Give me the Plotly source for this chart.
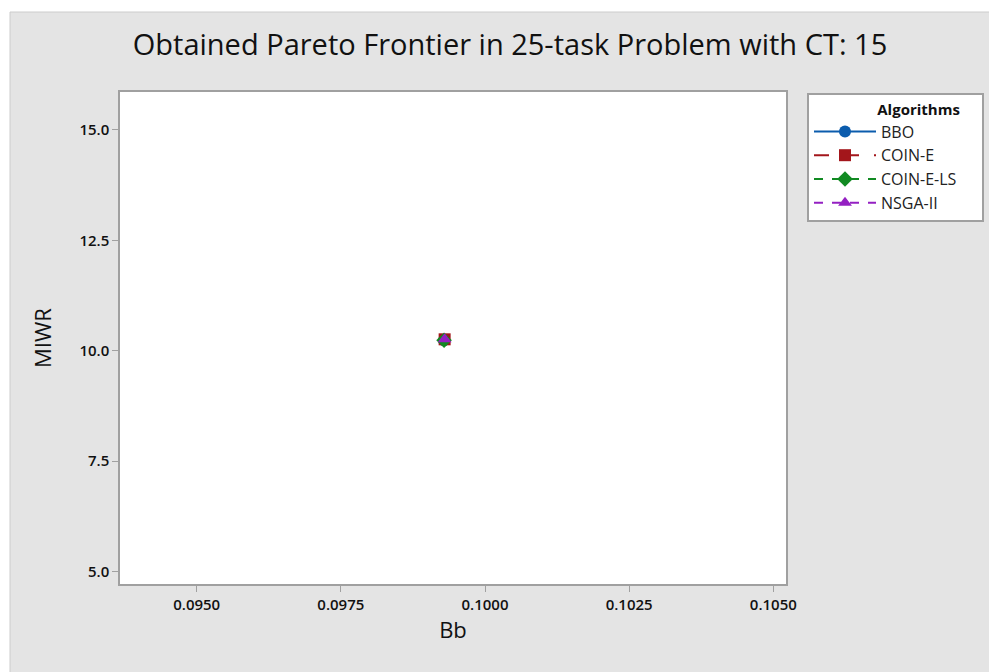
import plotly.graph_objects as go

algorithms = ["BBO", "COIN-E", "COIN-E-LS", "NSGA-II"]
bb_values = [0.09929, 0.09930, 0.09929, 0.09930]
miwr_values = [10.24, 10.26, 10.24, 10.26]
colors = ["#0b5cad", "#a3161b", "#118a22", "#9420c2"]
symbols = ["circle", "square", "diamond", "triangle-up"]
dashes = ["solid", "longdash", "dash", "dash"]

x_ticks = [0.0950, 0.0975, 0.1000, 0.1025, 0.1050]
y_ticks = [5.0, 7.5, 10.0, 12.5, 15.0]

# page has an 8px body margin; figure sized to fill the rest of the window
W, H = 989, 664
ML, MR, MT, MB = 112, 211, 84, 88
PW = W - ML - MR
PH = H - MT - MB


def px_x(X):
    return (X - ML) / PW


def px_y(Y):
    return (H - MB - Y) / PH


fig = go.Figure()
for name, xv, yv, c, s, d in zip(algorithms, bb_values, miwr_values, colors, symbols, dashes):
    fig.add_trace(go.Scatter(
        x=[xv], y=[yv], name=name, mode="lines+markers",
        line=dict(color=c, width=2, dash=d),
        marker=dict(symbol=s, size=12, color=c, line=dict(width=0)),
    ))

axis_common = dict(
    showgrid=False, zeroline=False, showline=True, linecolor="#a0a0a0", linewidth=1.5,
    mirror=True, ticks="outside", ticklen=6, tickcolor="#a0a0a0",
    tickfont=dict(family="Open Sans", size=15, color="#111111", weight=600),
)

pad_left = "&nbsp;" * 17
pad_right = "&nbsp;" * 5

fig.update_layout(
    width=W, height=H,
    margin=dict(l=ML, r=MR, t=MT, b=MB),
    paper_bgcolor="#e4e4e4", plot_bgcolor="white",
    title=dict(text="Obtained Pareto Frontier in 25-task Problem with CT: 15",
               x=502 / W, xref="container", xanchor="center",
               y=1 - 37 / H, yref="container", yanchor="middle",
               font=dict(family="Open Sans", size=29, color="#111111")),
    xaxis=dict(range=[0.09367, 0.10522], tickvals=x_ticks, tickformat=".4f",
               title=dict(text="Bb", font=dict(family="Open Sans", size=22, color="#111111"), standoff=2),
               **axis_common),
    yaxis=dict(range=[4.72, 15.86], tickvals=y_ticks, tickformat=".1f",
               title=dict(text="MIWR", font=dict(family="Open Sans", size=22, color="#111111"), standoff=22),
               **axis_common),
    legend=dict(
        x=px_x(799), y=px_y(85), xanchor="left", yanchor="top",
        bgcolor="white", bordercolor="#a0a0a0", borderwidth=2,
        title=dict(text=pad_left + "<b>Algorithms</b>" + pad_right, side="top",
                   font=dict(family="Open Sans", size=15, color="#111111")),
        font=dict(family="Open Sans", size=16, color="#222222"),
        tracegroupgap=0, itemwidth=62,
    ),
    showlegend=True,
    shapes=[
        dict(type="rect", xref="paper", yref="paper",
             x0=px_x(-20), x1=px_x(W + 20), y0=px_y(4), y1=px_y(-20),
             fillcolor="white", line=dict(width=0), layer="above"),
        dict(type="rect", xref="paper", yref="paper",
             x0=px_x(-20), x1=px_x(2), y0=px_y(H + 20), y1=px_y(-20),
             fillcolor="white", line=dict(width=0), layer="above"),
        dict(type="line", xref="paper", yref="paper",
             x0=px_x(2), x1=px_x(W + 20), y0=px_y(4), y1=px_y(4),
             line=dict(color="#cccccc", width=1), layer="above"),
        dict(type="line", xref="paper", yref="paper",
             x0=px_x(2), x1=px_x(2), y0=px_y(H + 20), y1=px_y(4),
             line=dict(color="#cccccc", width=1), layer="above"),
    ],
)

fig.write_html("out.html")
